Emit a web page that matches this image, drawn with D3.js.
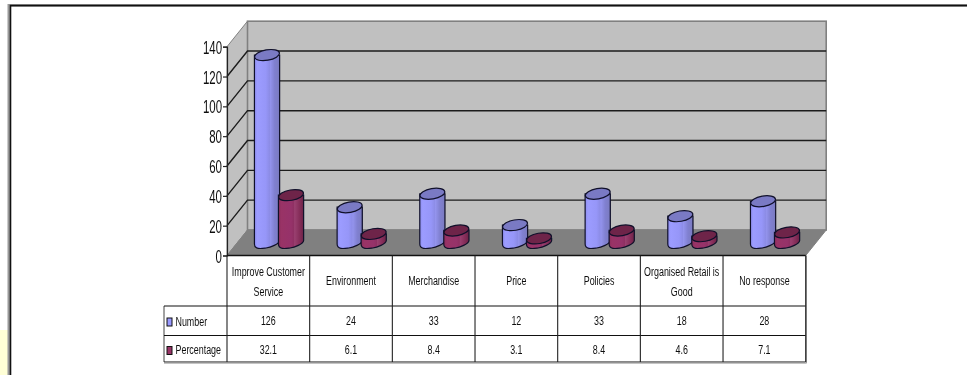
<!DOCTYPE html>
<html><head><meta charset="utf-8">
<script src="https://cdn.jsdelivr.net/npm/d3@7"></script>
<style>html,body{margin:0;padding:0;background:#fff}svg{display:block}text{font-family:"Liberation Sans",Arial,sans-serif;fill:#111}</style>
</head><body><svg id="c" width="967" height="375"></svg>
<script>
const categories=["Improve Customer Service","Environment","Merchandise","Price","Policies","Organised Retail is Good","No  response"];
const categoryLines=[["Improve Customer","Service"],["Environment"],["Merchandise"],["Price"],["Policies"],["Organised Retail is","Good"],["No  response"]];
const seriesNames=["Number","Percentage"];
const numberValues=[126,24,33,12,33,18,28];
const percentageValues=[32.1,6.1,8.4,3.1,8.4,4.6,7.1];
const percentageLabels=["32.1","6.1","8.4","3.1","8.4","4.6","7.1"];
const yTicks=[0,20,40,60,80,100,120,140];

const svg=d3.select("#c");
const defs=svg.append("defs");
defs.append("filter").attr("id","soft").append("feGaussianBlur").attr("stdDeviation",0.35);
function grad(id,stops){
  const g=defs.append("linearGradient").attr("id",id);
  stops.forEach(s=>g.append("stop").attr("offset",s[0]).attr("stop-color",s[1]));
}
grad("gN",[[0,"#8e8ef0"],[0.12,"#9c9cff"],[0.45,"#9696f8"],[0.6,"#8c8ce6"],[0.62,"#9494ee"],[0.8,"#8080d0"],[0.95,"#7c7cc4"],[1,"#6c6cae"]]);
grad("gP",[[0,"#8c2d5c"],[0.12,"#993366"],[0.5,"#96326a"],[0.62,"#8e3062"],[0.64,"#9a4070"],[0.85,"#842c58"],[1,"#6a2346"]]);

// Layout
const x0=227,x1=805.7,dx=20.5,dy=-25.5;
const y=d3.scaleLinear().domain([0,140]).range([255.5,46.7]);
const x=d3.scaleBand().domain(categories).range([x0,x1]);
const yBase=y(0), yTop=y(140);

const gPlot=svg.append("g");
// outer frame + page tint
svg.append("rect").attr("x",0).attr("y",330).attr("width",9).attr("height",45).attr("fill","#ffffd6");
svg.append("path").attr("d","M9,375V5.5H967").attr("fill","none").attr("stroke","#9a9a9a").attr("stroke-width",3);
svg.append("path").attr("d","M10.5,375V5.5H967").attr("fill","none").attr("stroke","#111").attr("stroke-width",1.6);

// walls
const pt=(a,b)=>a+","+b;
gPlot.append("polygon").attr("points",[pt(x0,yBase),pt(x0+dx,yBase+dy),pt(x0+dx,yTop+dy),pt(x0,yTop)].join(" "))
  .attr("fill","#c0c0c0").attr("stroke","#808080").attr("stroke-width",1);
gPlot.append("rect").attr("x",x0+dx).attr("y",yTop+dy).attr("width",x1-x0).attr("height",yBase-yTop)
  .attr("fill","#c0c0c0").attr("stroke","#808080").attr("stroke-width",1.6);
gPlot.append("polygon").attr("points",[pt(x0,yBase),pt(x1,yBase),pt(x1+dx,yBase+dy),pt(x0+dx,yBase+dy)].join(" "))
  .attr("fill","#808080").attr("stroke","#808080");

// gridlines
gPlot.selectAll("path.g").data(yTicks.filter(t=>t>0&&t<140)).join("path").attr("class","g")
  .attr("d",t=>`M${x0},${y(t)}L${x0+dx},${y(t)+dy}H${x1+dx}`)
  .attr("fill","none").attr("stroke","#1c1c1c").attr("stroke-width",1.4);

// y axis
const axis=gPlot.append("g").attr("transform",`translate(${x0},0)`).call(d3.axisLeft(y).tickValues(yTicks).tickSize(4).tickPadding(3));
axis.select(".domain").attr("stroke","#222").attr("stroke-width",1.2);
axis.selectAll(".tick line").attr("stroke","#222").attr("stroke-width",1.2);
axis.selectAll("text").each(function(d){
  d3.select(this).attr("x",null).attr("dy",null).attr("text-anchor","end").attr("font-size",18.5).attr("fill","#111")
    .attr("transform",`translate(-5,6.5) scale(0.62,1)`).style("filter","url(#soft)");
});

// cylinders
const rx=12.6,ry=5.2,baseLift=12.5,tilt=-10;
function cyl(cx,v,fillId,topColor){
  const g=gPlot.append("g");
  const yb=y(0)-baseLift, yt=y(v)-baseLift;
  g.append("path").attr("d",`M${cx-rx},${yt}V${yb+1}C${cx-rx},${yb+7} ${cx-5},${yb+5.5} ${cx-1},${yb+5}S${cx+rx},${yb+1} ${cx+rx},${yb-2.5}V${yt}Z`)
    .attr("fill",`url(#${fillId})`).attr("stroke","#10102a").attr("stroke-width",1.2);
  g.append("ellipse").attr("cx",0).attr("cy",0).attr("rx",rx).attr("ry",ry)
    .attr("transform",`translate(${cx},${yt}) rotate(${tilt})`)
    .attr("fill",topColor).attr("stroke","#10102a").attr("stroke-width",1.2);
}
const centre=d=>x(d)+x.bandwidth()/2;
categories.forEach((c,i)=>{
  cyl(centre(c)-1.3,numberValues[i],"gN","#7a7ac4");
  cyl(centre(c)+22.7,percentageValues[i],"gP","#6e2449");
});

// data table
const rowY=[255.5,306,335.5,362], xLeft=164;
const T=svg.append("g");
const line=(a,b,c,d,col,w)=>T.append("line").attr("x1",a).attr("y1",b).attr("x2",c).attr("y2",d).attr("stroke",col).attr("stroke-width",w);
line(x0,rowY[0],x1,rowY[0],"#111",1.6);
line(xLeft,rowY[1],x1,rowY[1],"#111",1.2);
line(xLeft,rowY[2],x1,rowY[2],"#111",1.2);
line(xLeft,rowY[3],x1,rowY[3],"#111",1.2);
line(xLeft,rowY[3]+1.2,x1+1,rowY[3]+1.2,"#aaa",1);
line(xLeft,rowY[1],xLeft,rowY[3],"#111",0.8);
line(x1+0.8,rowY[0],x1+0.8,rowY[3]+1,"#999",1);
x.domain().forEach(c=>line(x(c),rowY[0],x(c),rowY[3],"#222",1.1));
line(x1,rowY[0],x1,rowY[3],"#222",1.1);

function label(px,py,str,anchor,size,sx){
  T.append("text").text(str).attr("text-anchor",anchor||"middle").attr("font-size",size||13.5)
   .attr("transform",`translate(${px},${py}) scale(${sx||0.66},1)`).style("filter","url(#soft)");
}
categories.forEach((c,i)=>{
  const cx=centre(c), L=categoryLines[i];
  if(L.length===2){label(cx,275.5,L[0]);label(cx,296,L[1]);}
  else label(cx,284.5,L[0]);
  label(cx,325,numberValues[i]);
  label(cx,354,percentageLabels[i]);
});
[[rowY[1],"#9999ff"],[rowY[2],"#993366"]].forEach((r,i)=>{
  T.append("rect").attr("x",167).attr("y",r[0]+(i?11:12)).attr("width",5).attr("height",8).attr("fill",r[1]).attr("stroke","#111").attr("stroke-width",1);
  label(175.5,i?354:325.5,seriesNames[i],"start");
});
</script></body></html>
